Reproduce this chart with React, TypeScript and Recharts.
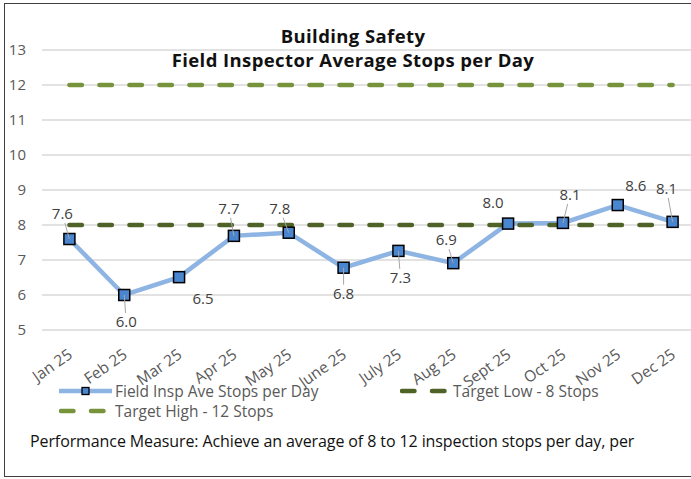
import { LineChart, Line, XAxis, YAxis, CartesianGrid, LabelList } from "recharts";

const MONTHS = ["Jan 25", "Feb 25", "Mar 25", "Apr 25", "May 25", "June 25", "July 25", "Aug 25", "Sept 25", "Oct 25", "Nov 25", "Dec 25"];
const STOPS = [7.6, 6.0, 6.51, 7.69, 7.78, 6.78, 7.26, 6.91, 8.04, 8.06, 8.57, 8.09];
const TARGET_LOW = [8, 8, 8, 8, 8, 8, 8, 8, 8, 8, 8, 8];
const TARGET_HIGH = [12, 12, 12, 12, 12, 12, 12, 12, 12, 12, 12, 12];
const Y_TICKS = [5, 6, 7, 8, 9, 10, 11, 12, 13];

// where each data label sits relative to its point, and whether it gets a leader line
const LABEL_POS = [
  { dx: -7, dy: -25, lead: true },
  { dx: 2, dy: 27, lead: true },
  { dx: 24, dy: 22, lead: false },
  { dx: -5, dy: -27, lead: true },
  { dx: -9, dy: -24, lead: true },
  { dx: 0, dy: 26, lead: true },
  { dx: 2, dy: 27, lead: true },
  { dx: -7, dy: -23, lead: true },
  { dx: -15, dy: -21, lead: false },
  { dx: 7, dy: -28, lead: true },
  { dx: 18, dy: -19, lead: false },
  { dx: -6, dy: -33, lead: true },
];

const data = MONTHS.map((m, i) => ({
  month: m,
  stops: STOPS[i],
  low: TARGET_LOW[i],
  high: TARGET_HIGH[i],
}));

const FONT = "'Open Sans', sans-serif";
const BLUE_LINE = "#8DB4E2";
const BLUE_MARK = "#4A86D0";
const DARK_GREEN = "#4F6228";
const LIGHT_GREEN = "#77933C";
const TEXT = "#595959";

const SquareDot = (props: any) => {
  const { cx, cy } = props;
  if (cx == null || cy == null) return null;
  return <rect x={cx - 5.5} y={cy - 5.5} width={11} height={11} fill={BLUE_MARK} stroke="#000" strokeWidth={1.5} />;
};

const PointLabel = (props: any) => {
  const { x, y, value, index } = props;
  const p = LABEL_POS[index];
  const lx = x + p.dx;
  const ly = y + p.dy;
  let leader = null;
  if (p.lead) {
    const t = Math.min(11 / Math.max(Math.abs(p.dx), 0.01), 9 / Math.max(Math.abs(p.dy), 0.01));
    const ex = lx - p.dx * t;
    const ey = ly - p.dy * t;
    leader = <line x1={x} y1={y} x2={ex} y2={ey} stroke="#A6A6A6" strokeWidth={1} />;
  }
  return (
    <g>
      {leader}
      <text x={lx} y={ly} dy={5} textAnchor="middle" fontSize={15} fontFamily={FONT} fill="#404040">
        {Number(value).toFixed(1)}
      </text>
    </g>
  );
};

const MonthTick = (props: any) => {
  const { x, y, payload } = props;
  return (
    <g transform={`translate(${x + 4},${y + 19})`}>
      <text textAnchor="end" transform="rotate(-35)" fontSize={15.5} fontFamily={FONT} fill={TEXT}>
        {payload.value}
      </text>
    </g>
  );
};

const Dashes = ({ color }: { color: string }) => (
  <svg width={50} height={10} style={{ display: "block" }}>
    <line x1={2} y1={5} x2={48} y2={5} stroke={color} strokeWidth={4.5} strokeDasharray="12.5 17.5" strokeLinecap="round" />
  </svg>
);

export default function App() {
  return (
    <div
      style={{
        position: "fixed",
        left: 0,
        top: 0,
        width: 691,
        height: 479,
        overflow: "hidden",
        background: "#fff",
        fontFamily: FONT,
      }}
    >
      <div
        style={{
          position: "absolute",
          left: 4,
          top: 3,
          width: 730,
          height: 472,
          border: "1.5px solid #404040",
        }}
      />
      <div
        style={{
          position: "absolute",
          left: 0,
          width: 706,
          top: 24,
          textAlign: "center",
          fontWeight: 700,
          fontSize: 18.5,
          letterSpacing: 0.4,
          lineHeight: "24px",
          color: "#111",
        }}
      >
        <div>Building Safety</div>
        <div>Field Inspector Average Stops per Day</div>
      </div>

      <div style={{ position: "absolute", left: 0, top: 0 }}>
        <LineChart width={712} height={400} data={data} margin={{ top: 50, right: 12, left: 0, bottom: 0 }}>
          <CartesianGrid vertical={false} stroke="#D9D9D9" strokeWidth={1.3} />
          <XAxis
            dataKey="month"
            axisLine={false}
            tickLine={false}
            height={70}
            interval={0}
            padding={{ left: 27.4, right: 27.4 }}
            tick={<MonthTick />}
          />
          <YAxis
            domain={[5, 13]}
            ticks={Y_TICKS}
            width={42}
            axisLine={false}
            tickLine={false}
            tickMargin={10}
            tick={{ fontSize: 15, fontFamily: FONT, fill: TEXT }}
          />
          <Line
            dataKey="stops"
            stroke={BLUE_LINE}
            strokeWidth={4.5}
            dot={<SquareDot />}
            activeDot={false}
            isAnimationActive={false}
          >
            <LabelList dataKey="stops" content={<PointLabel />} />
          </Line>
          <Line
            dataKey="low"
            stroke={DARK_GREEN}
            strokeWidth={4.5}
            strokeDasharray="12.5 17.5"
            strokeLinecap="round"
            dot={false}
            activeDot={false}
            isAnimationActive={false}
          />
          <Line
            dataKey="high"
            stroke={LIGHT_GREEN}
            strokeWidth={4.5}
            strokeDasharray="12.5 17.5"
            strokeLinecap="round"
            dot={false}
            activeDot={false}
            isAnimationActive={false}
          />
        </LineChart>
      </div>

      {/* legend */}
      <div style={{ position: "absolute", left: 59, top: 381, fontSize: 15.5, color: TEXT, lineHeight: "19px" }}>
        <div style={{ display: "flex", alignItems: "center", height: 20 }}>
          <div style={{ display: "flex", alignItems: "center", width: 341 }}>
            <svg width={54} height={10} style={{ display: "block" }}>
              <line x1={0} y1={5} x2={53} y2={5} stroke={BLUE_LINE} strokeWidth={4.5} />
              <rect x={23} y={1.5} width={7} height={7} fill={BLUE_MARK} stroke="#000" strokeWidth={1.3} />
            </svg>
            <span style={{ marginLeft: 2 }}>Field Insp Ave Stops per Day</span>
          </div>
          <div style={{ display: "flex", alignItems: "center" }}>
            <Dashes color={DARK_GREEN} />
            <span style={{ marginLeft: 3 }}>Target Low - 8 Stops</span>
          </div>
        </div>
        <div style={{ display: "flex", alignItems: "center", height: 20 }}>
          <Dashes color={LIGHT_GREEN} />
          <span style={{ marginLeft: 6 }}>Target High - 12 Stops</span>
        </div>
      </div>

      <div
        style={{
          position: "absolute",
          left: 30,
          top: 430,
          fontSize: 16,
          letterSpacing: -0.1,
          color: "#111",
          lineHeight: "22px",
        }}
      >
        Performance Measure: Achieve an average of 8 to 12 inspection stops per day, per
      </div>
    </div>
  );
}
